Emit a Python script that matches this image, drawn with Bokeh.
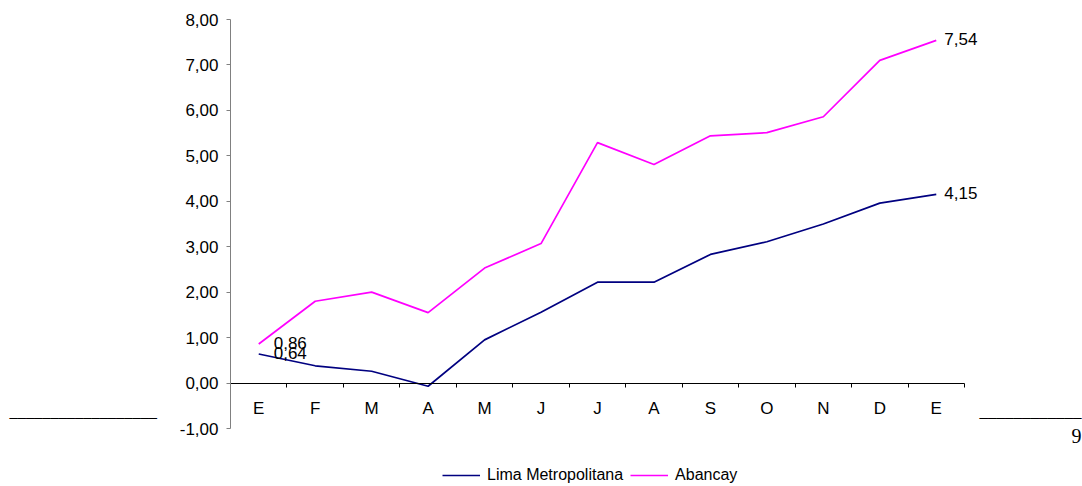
from bokeh.plotting import figure
from bokeh.models import (Range1d, LinearAxis, FixedTicker, Legend, LegendItem, Label)
from bokeh.embed import file_html
from bokeh.resources import INLINE

# ---- data ----
months = ["E", "F", "M", "A", "M", "J", "J", "A", "S", "O", "N", "D", "E"]
lima = [0.64, 0.38, 0.26, -0.07, 0.95, 1.56, 2.22, 2.22, 2.83, 3.11, 3.50, 3.96, 4.15]
abancay = [0.86, 1.80, 2.00, 1.55, 2.53, 3.07, 5.29, 4.81, 5.44, 5.51, 5.86, 7.10, 7.54]
y_ticks = [-1, 0, 1, 2, 3, 4, 5, 6, 7, 8]
series_names = ["Lima Metropolitana", "Abancay"]

FONT = "Liberation Sans"
NAVY = "#000080"
MAGENTA = "#FF00FF"

# ---- layout (pixels) ----
W, H = 1082, 486
PLOT_L, PLOT_R, PLOT_T, PLOT_B = 230, 964, 19, 428   # plot area in canvas pixels

n = len(months)
xs = [i + 0.5 for i in range(n)]
y0, y1 = y_ticks[0], y_ticks[-1]
xpx = (PLOT_R - PLOT_L) / n
ypx = (PLOT_B - PLOT_T) / (y1 - y0)
x_range = Range1d(-PLOT_L / xpx, n + (W - PLOT_R) / xpx)
y_range = Range1d(y0 - (H - PLOT_B) / ypx, y1 + PLOT_T / ypx)

def fmt(v):
    return f"{v:.2f}".replace(".", ",")

p = figure(width=W, height=H, output_backend="svg", toolbar_location=None, title=None,
           x_range=x_range, y_range=y_range,
           min_border_left=0, min_border_right=0, min_border_top=0, min_border_bottom=0,
           outline_line_color=None)
p.xgrid.visible = False
p.ygrid.visible = False
p.xaxis.visible = False
p.yaxis.visible = False

# y axis at x = 0
yax = LinearAxis(ticker=FixedTicker(ticks=y_ticks, minor_ticks=[]),
                 major_label_overrides={v: fmt(v) for v in y_ticks},
                 fixed_location=0, bounds=(y0, y1),
                 axis_line_color="#808080", major_tick_line_color="#808080",
                 major_tick_out=4, major_tick_in=0, minor_tick_line_color=None,
                 major_label_text_font=FONT, major_label_text_font_size="17px",
                 major_label_standoff=8, major_label_text_color="black")
p.add_layout(yax, "left")

# x axis at y = 0, ticks between the months
xax = LinearAxis(ticker=FixedTicker(ticks=xs, minor_ticks=list(range(n + 1))),
                 major_label_overrides={x: m for x, m in zip(xs, months)},
                 fixed_location=0, bounds=(0, n), axis_line_color="black",
                 major_tick_line_color=None, minor_tick_line_color="black",
                 minor_tick_out=4, minor_tick_in=0,
                 major_label_text_font=FONT, major_label_text_font_size="17px",
                 major_label_standoff=10, major_label_text_color="black")
p.add_layout(xax, "below")

r1 = p.line(xs, lima, line_color=NAVY, line_width=1.7)
r2 = p.line(xs, abancay, line_color=MAGENTA, line_width=1.7)

# data labels: first and last points
for series, idx, dx in [(abancay, 0, 15), (lima, 0, 15), (abancay, -1, 8), (lima, -1, 8)]:
    p.add_layout(Label(x=xs[idx], y=series[idx], text=fmt(series[idx]),
                       x_offset=dx, y_offset=1, text_font=FONT, text_font_size="17px",
                       text_baseline="middle", text_color="black"))

legend = Legend(items=[LegendItem(label=series_names[0], renderers=[r1]),
                       LegendItem(label=series_names[1], renderers=[r2])],
                location=(442, 2), orientation="horizontal",
                glyph_width=38, glyph_height=16, label_standoff=7, spacing=7,
                padding=0, margin=0, border_line_color=None, background_fill_alpha=0,
                label_text_font=FONT, label_text_font_size="16px",
                label_text_color="black")
p.add_layout(legend)

# decorative page rules and a stray page number seen in the source document
p.add_layout(Label(x=9, y=75, x_units="screen", y_units="screen", text="_" * 18,
                   text_font="Liberation Serif", text_font_size="16.4px",
                   text_baseline="alphabetic", text_color="black"))
p.add_layout(Label(x=979, y=75, x_units="screen", y_units="screen", text="_" * 12,
                   text_font="Liberation Serif", text_font_size="17px",
                   text_baseline="alphabetic", text_color="black"))
p.add_layout(Label(x=1071, y=58, x_units="screen", y_units="screen", text="9",
                   text_font="Liberation Serif", text_font_size="20px",
                   text_baseline="top", text_color="black"))

open("out.html", "w").write(file_html(p, INLINE))
